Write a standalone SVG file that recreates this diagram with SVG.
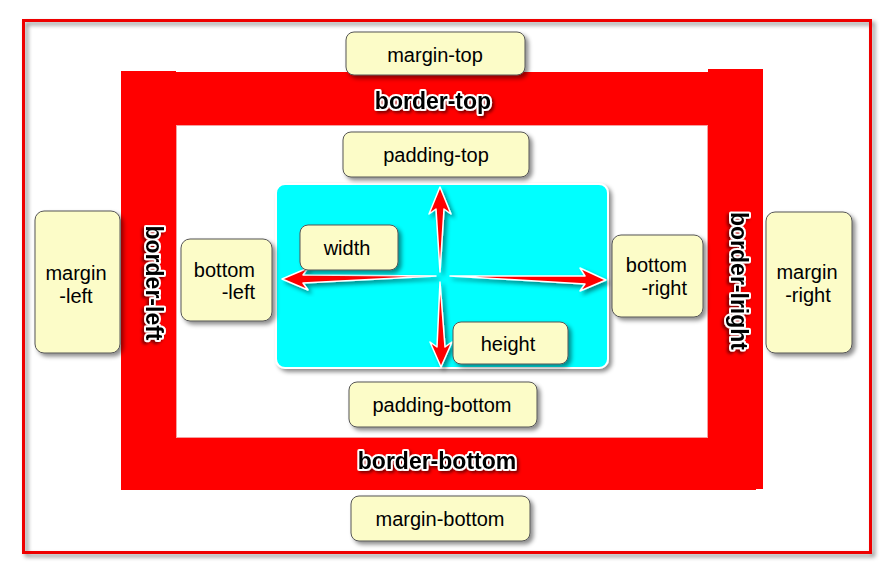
<svg xmlns="http://www.w3.org/2000/svg" width="894" height="583" viewBox="0 0 894 583">
<defs>
<filter id="sh" x="-20%" y="-20%" width="150%" height="150%"><feDropShadow dx="3" dy="3" stdDeviation="2" flood-color="#000" flood-opacity="0.45"/></filter>
<filter id="tsh" x="-10%" y="-20%" width="130%" height="160%"><feDropShadow dx="2" dy="2" stdDeviation="1.5" flood-color="#000" flood-opacity="0.5"/></filter>
<style>
.box{fill:#fcfcc8;stroke:#555;stroke-width:1;filter:url(#sh)}
.t{font-family:"Liberation Sans",Arial,sans-serif;font-size:20px;fill:#000;text-anchor:middle}
.tr{font-family:"Liberation Sans",Arial,sans-serif;font-size:20px;fill:#000;text-anchor:end}
.b{font-family:"Liberation Sans",Arial,sans-serif;font-size:23px;font-weight:bold;fill:#000;text-anchor:middle;stroke:#fff;stroke-width:4;stroke-linejoin:round;paint-order:stroke;filter:url(#tsh)}
.red{fill:#f00}
.arr{fill:#f00;stroke:#fff;stroke-width:1.5;stroke-linejoin:round;filter:url(#sh)}
</style>
</defs>
<rect width="894" height="583" fill="#fff"/>
<g id="margin-frame">
<rect x="23.5" y="20.5" width="847" height="532" fill="none" stroke="#e00" stroke-width="3" filter="url(#sh)"/>
</g>
<g id="border">
<rect class="red" x="121" y="71" width="55" height="419"/>
<rect class="red" x="121" y="72" width="587" height="53"/>
<rect class="red" x="708" y="69" width="55" height="420"/>
<rect class="red" x="121" y="438" width="635" height="52"/>
<rect x="176.5" y="125.5" width="531" height="312" fill="#fff" stroke="#f4a0a0" stroke-width="1"/>
<text class="b" x="433" y="109">border-top</text>
<text class="b" x="437" y="469">border-bottom</text>
<text class="b" transform="translate(146 283) rotate(90)" x="0" y="0">border-left</text>
<text class="b" transform="translate(731 281) rotate(90)" x="0" y="0">border-lright</text>
</g>
<g id="content">
<rect x="276" y="184" width="332" height="184" rx="9" fill="#00ffff" stroke="#fff" stroke-width="2" filter="url(#sh)"/>
</g>
<g id="connectors">
<polygon class="arr" points="440,187 451,214 444,209 440,272 436,209 429,214"/>
<polygon class="arr" points="441,367 452,342 445,347 440,282 437,347 430,342"/>
<polygon class="arr" points="282,279 308,268 303,275 436,276 303,283 308,290"/>
<polygon class="arr" points="606,280 580,268 585,276 450,276 585,284 580,291"/>
</g>
<g id="margin-top"><rect class="box" x="346" y="32" width="179" height="43" rx="8"/><text class="t" x="435" y="62">margin-top</text></g>
<g id="padding-top"><rect class="box" x="343" y="132" width="186" height="45" rx="8"/><text class="t" x="436" y="162">padding-top</text></g>
<g id="margin-left"><rect class="box" x="35" y="211" width="85" height="142" rx="9"/><text class="t" x="76" y="280">margin</text><text class="t" x="76" y="303">-left</text></g>
<g id="bottom-left"><rect class="box" x="181" y="239" width="91" height="82" rx="9"/><text class="tr" x="255" y="277">bottom</text><text class="tr" x="255" y="299">-left</text></g>
<g id="width"><rect class="box" x="300" y="225" width="98" height="45" rx="8"/><text class="t" x="347" y="255">width</text></g>
<g id="height"><rect class="box" x="453" y="322" width="115" height="42" rx="8"/><text class="t" x="508" y="351">height</text></g>
<g id="bottom-right"><rect class="box" x="612" y="235" width="91" height="82" rx="9"/><text class="tr" x="687" y="272">bottom</text><text class="tr" x="687" y="295">-right</text></g>
<g id="margin-right"><rect class="box" x="766" y="212" width="86" height="141" rx="9"/><text class="t" x="807" y="279">margin</text><text class="t" x="808" y="302">-right</text></g>
<g id="padding-bottom"><rect class="box" x="349" y="382" width="188" height="45" rx="8"/><text class="t" x="442" y="412">padding-bottom</text></g>
<g id="margin-bottom"><rect class="box" x="351" y="496" width="179" height="45" rx="8"/><text class="t" x="440" y="526">margin-bottom</text></g>
</svg>
